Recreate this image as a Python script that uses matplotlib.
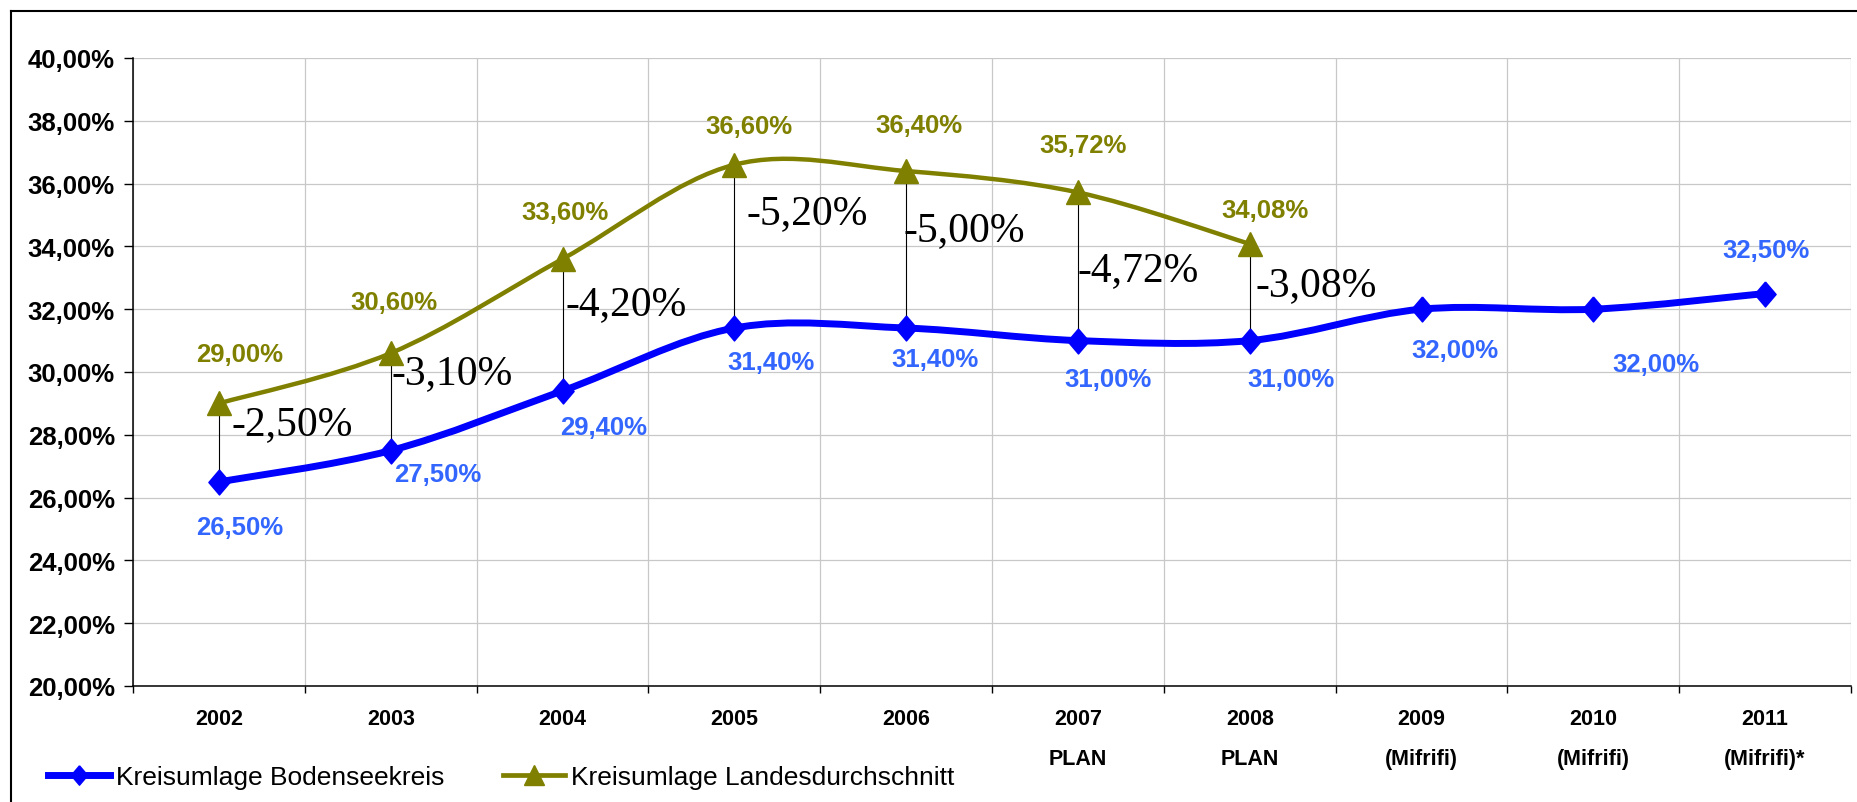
import numpy as np
import matplotlib
matplotlib.use('Agg')
import matplotlib.pyplot as plt
from matplotlib import font_manager
from matplotlib.path import Path
from matplotlib.patches import PathPatch
from matplotlib.lines import Line2D

# Daten
jahre = ['2002', '2003', '2004', '2005', '2006', '2007\nPLAN', '2008\nPLAN',
         '2009\n(Mifrifi)', '2010\n(Mifrifi)', '2011\n(Mifrifi)*']
bodensee = [26.5, 27.5, 29.4, 31.4, 31.4, 31.0, 31.0, 32.0, 32.0, 32.5]
landes = [29.0, 30.6, 33.6, 36.6, 36.4, 35.72, 34.08]
y_ticks = [20, 22, 24, 26, 28, 30, 32, 34, 36, 38, 40]

# Label-Versatz in Pixeln (dx, dy)
off_bodensee = [(21, -45), (47, -24), (41, -36), (37, -34), (29, -31),
                (30, -38), (41, -38), (33, -41), (63, -55), (1, 43)]
off_landes = [(21, 49), (3, 51), (2, 47), (15, 39), (13, 46), (5, 47), (15, 34)]
off_diff = [(13, -20), (1, -20), (3, -45), (12, -48), (-3, -59), (0, -77), (6, -41)]

BLAU = '#0000FF'
BLAU_TXT = '#3366FF'
OLIV = '#808000'

names = {f.name for f in font_manager.fontManager.ttflist}
if 'Liberation Sans Narrow' in names:
    SANS = 'Liberation Sans Narrow'
    f_big, f_x = 21, 18.5
else:
    SANS = 'Liberation Sans'
    f_big, f_x = 18.5, 15.5
SERIF = 'Liberation Serif'


def fmt(v):
    return f'{v:.2f}'.replace('.', ',') + '%'


def smooth(xs, ys):
    # geglaettete Linie wie in Excel (Bezier / Catmull-Rom)
    p = np.column_stack([xs, ys]).astype(float)
    n = len(p)
    verts = [p[0]]
    codes = [Path.MOVETO]
    for i in range(n - 1):
        p0 = p[i - 1] if i > 0 else p[i]
        p3 = p[i + 2] if i + 2 < n else p[i + 1]
        c1 = p[i] + (p[i + 1] - p0) / 6
        c2 = p[i + 1] - (p3 - p[i]) / 6
        verts += [c1, c2, p[i + 1]]
        codes += [Path.CURVE4] * 3
    return Path(verts, codes)


fig = plt.figure(figsize=(18.58, 8.03), dpi=100)
ax = fig.add_axes([133 / 1858, 116 / 803, 1718 / 1858, 628 / 803])

x_b = np.arange(len(bodensee))
x_l = np.arange(len(landes))

# Verbindungslinien
ax.vlines(x_l, np.array(bodensee[:len(landes)]), landes, color='black', lw=0.8, zorder=3)

ax.add_patch(PathPatch(smooth(x_l, landes), fill=False, edgecolor=OLIV, lw=3.2,
                       capstyle='round', joinstyle='round', zorder=4))
ax.add_patch(PathPatch(smooth(x_b, bodensee), fill=False, edgecolor=BLAU, lw=5,
                       capstyle='round', joinstyle='round', zorder=5))

diamant = [(0, 1), (0.85, 0), (0, -1), (-0.85, 0), (0, 1)]
ax.plot(x_l, landes, linestyle='none', marker='^', ms=17, color=OLIV, zorder=6)
ax.plot(x_b, bodensee, linestyle='none', marker=diamant, ms=18, color=BLAU, zorder=7)

for i, v in enumerate(bodensee):
    ax.annotate(fmt(v), (i, v), xytext=off_bodensee[i], textcoords='offset pixels',
                ha='center', va='center', color=BLAU_TXT, fontsize=f_big,
                fontweight='bold', family=SANS, zorder=8)
for i, v in enumerate(landes):
    ax.annotate(fmt(v), (i, v), xytext=off_landes[i], textcoords='offset pixels',
                ha='center', va='center', color=OLIV, fontsize=f_big,
                fontweight='bold', family=SANS, zorder=8)
    d = bodensee[i] - v
    ax.annotate(fmt(d), (i, v), xytext=off_diff[i], textcoords='offset pixels',
                ha='left', va='center', color='black', fontsize=30,
                family=SERIF, zorder=8)

# Achsen
ax.set_xlim(-0.5, len(jahre) - 0.5)
ax.set_ylim(20, 40)
ax.set_yticks(y_ticks)
ax.set_yticklabels([fmt(v) for v in y_ticks], fontsize=f_big, fontweight='bold', family=SANS)
ax.set_xticks(np.arange(len(jahre) + 1) - 0.5)
ax.set_xticklabels([])
ax.set_xticks(x_b, minor=True)
ax.set_xticklabels(jahre, minor=True, fontsize=f_x, fontweight='bold', family=SANS,
                   linespacing=2.15)
ax.tick_params(axis='x', which='major', length=5, width=1, direction='out')
ax.tick_params(axis='x', which='minor', length=0, pad=16)
ax.tick_params(axis='y', length=6.5, width=1, pad=6.5)

ax.grid(True, which='major', color='#C8C8C8', lw=0.9)
ax.set_axisbelow(True)
for s in ['top', 'right']:
    ax.spines[s].set_visible(False)
for s in ['left', 'bottom']:
    ax.spines[s].set_linewidth(1.1)
    ax.spines[s].set_zorder(2)

# Legende
handles = [
    Line2D([], [], color=BLAU, lw=5, marker=diamant, ms=14),
    Line2D([], [], color=OLIV, lw=3.4, marker='^', ms=14),
]
fig.legend(handles, ['Kreisumlage Bodenseekreis', 'Kreisumlage Landesdurchschnitt'],
           loc='center left', bbox_to_anchor=(48 / 1858, 25 / 803), ncol=2,
           frameon=False, prop={'family': 'Liberation Sans', 'size': 19},
           handlelength=2.35, handletextpad=0.23, columnspacing=2.2,
           borderpad=0, borderaxespad=0)

# Rahmen
fig.add_artist(Line2D([11 / 1858, 1], [1 - 12 / 803, 1 - 12 / 803],
                      transform=fig.transFigure, color='black', lw=1.5))
fig.add_artist(Line2D([11 / 1858, 11 / 1858], [0, 1 - 12 / 803],
                      transform=fig.transFigure, color='black', lw=1.5))

fig.savefig('out.png', dpi=100)
